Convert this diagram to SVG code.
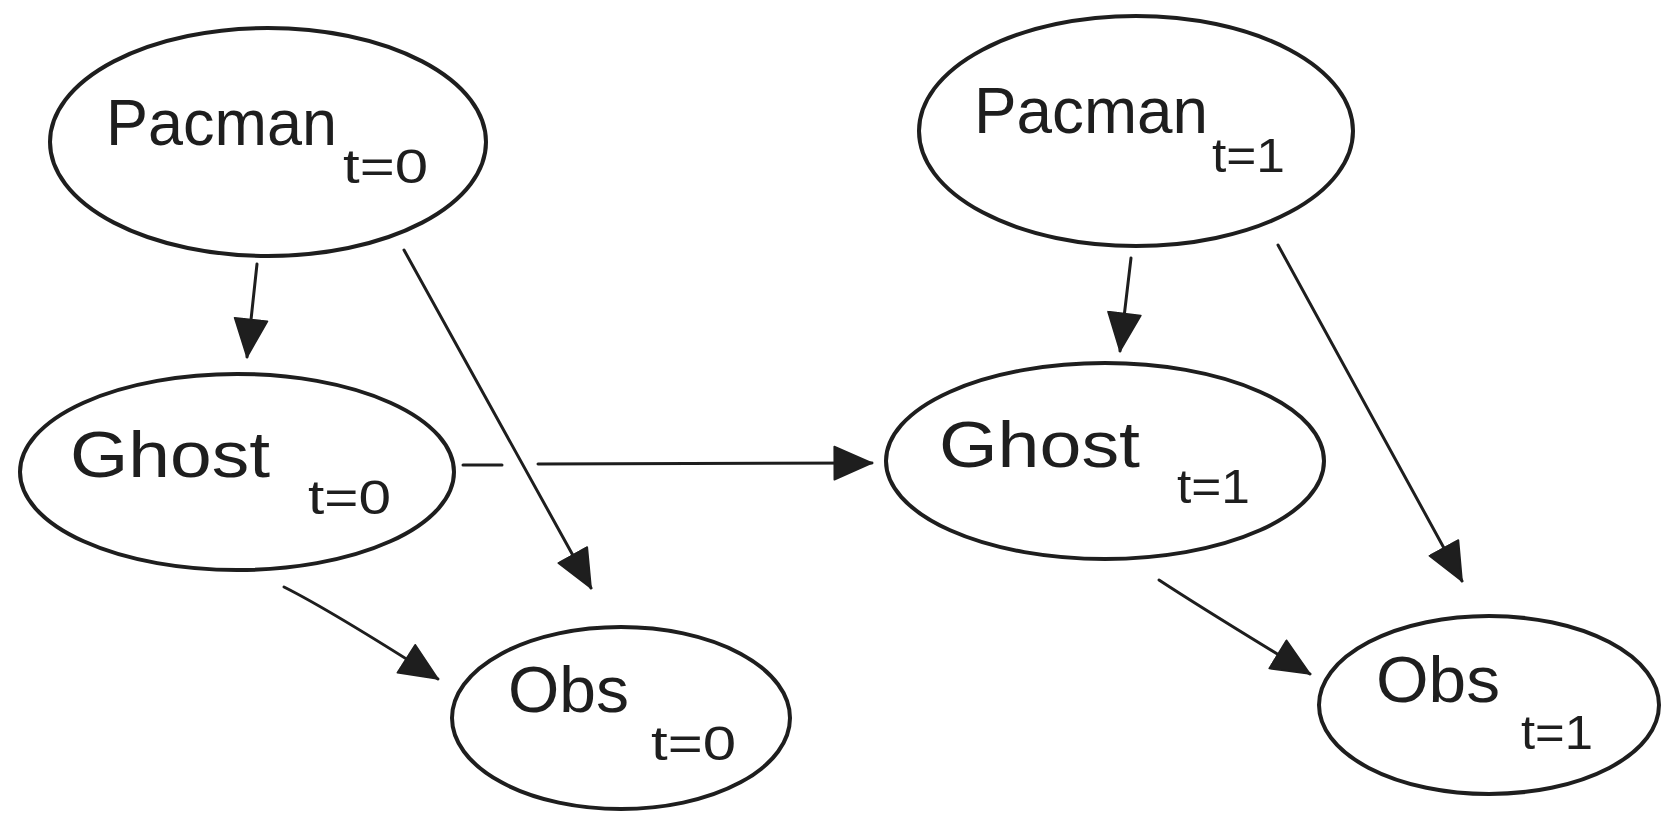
<svg xmlns="http://www.w3.org/2000/svg" width="1680" height="826" viewBox="0 0 1680 826">
  <defs>
    <style>
      .node { fill: none; stroke: #1e1e1e; stroke-width: 4; }
      .edge { fill: none; stroke: #1e1e1e; stroke-width: 3; stroke-linecap: round; }
      .lbl { font-family: "Liberation Sans", Arial, sans-serif; font-size: 65px; fill: #1e1e1e; }
      .sub { font-family: "Liberation Sans", Arial, sans-serif; font-size: 49px; fill: #1e1e1e; }
    </style>
    <marker id="arrow" markerUnits="userSpaceOnUse" markerWidth="40" markerHeight="40" viewBox="0 0 34 30" refX="33" refY="15" orient="auto">
      <path d="M1,1 L33,15 L1,29 Z" fill="#1e1e1e" stroke="#1e1e1e" stroke-width="1.5" stroke-linejoin="round"/>
    </marker>
  </defs>
  <rect width="1680" height="826" fill="#ffffff"/>

  <g id="connectors">
    <path class="edge" d="M257,264 L247,357" marker-end="url(#arrow)"/>
    <path class="edge" d="M404,250 L591,588" marker-end="url(#arrow)"/>
    <path class="edge" d="M463,465 L502,465"/>
    <path class="edge" d="M538,464 L872,463" marker-end="url(#arrow)"/>
    <path class="edge" d="M284,587 Q330,610 438,679" marker-end="url(#arrow)"/>
    <path class="edge" d="M1131,258 L1120,351" marker-end="url(#arrow)"/>
    <path class="edge" d="M1278,245 L1462,581" marker-end="url(#arrow)"/>
    <path class="edge" d="M1159,580 Q1200,607 1310,674" marker-end="url(#arrow)"/>
  </g>

  <g id="pacman0">
    <ellipse class="node" cx="268" cy="142" rx="218" ry="114"/>
    <text class="lbl" x="106" y="145" textLength="231" lengthAdjust="spacingAndGlyphs">Pacman</text>
    <text class="sub" x="343" y="183" textLength="85" lengthAdjust="spacingAndGlyphs">t=0</text>
  </g>

  <g id="pacman1">
    <ellipse class="node" cx="1136" cy="131" rx="217" ry="115"/>
    <text class="lbl" x="974" y="133" textLength="234" lengthAdjust="spacingAndGlyphs">Pacman</text>
    <text class="sub" x="1212" y="172" textLength="73" lengthAdjust="spacingAndGlyphs">t=1</text>
  </g>

  <g id="ghost0">
    <ellipse class="node" cx="237" cy="472" rx="217" ry="98"/>
    <text class="lbl" x="70" y="477" textLength="200" lengthAdjust="spacingAndGlyphs">Ghost</text>
    <text class="sub" x="308" y="514" textLength="83" lengthAdjust="spacingAndGlyphs">t=0</text>
  </g>

  <g id="ghost1">
    <ellipse class="node" cx="1105" cy="461" rx="219" ry="98"/>
    <text class="lbl" x="939" y="467" textLength="201" lengthAdjust="spacingAndGlyphs">Ghost</text>
    <text class="sub" x="1177" y="503" textLength="73" lengthAdjust="spacingAndGlyphs">t=1</text>
  </g>

  <g id="obs0">
    <ellipse class="node" cx="621" cy="718" rx="169" ry="91"/>
    <text class="lbl" x="508" y="712" textLength="121" lengthAdjust="spacingAndGlyphs">Obs</text>
    <text class="sub" x="651" y="760" textLength="85" lengthAdjust="spacingAndGlyphs">t=0</text>
  </g>

  <g id="obs1">
    <ellipse class="node" cx="1489" cy="705" rx="170" ry="89"/>
    <text class="lbl" x="1376" y="702" textLength="124" lengthAdjust="spacingAndGlyphs">Obs</text>
    <text class="sub" x="1521" y="749" textLength="72" lengthAdjust="spacingAndGlyphs">t=1</text>
  </g>
</svg>
